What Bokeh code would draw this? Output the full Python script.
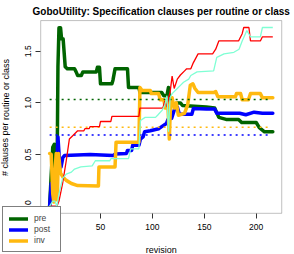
from bokeh.plotting import figure
from bokeh.models import (Range1d, FixedTicker, PrintfTickFormatter, Legend, LegendItem,
                          LinearAxis, BoxAnnotation, Label)
from bokeh.embed import file_html
from bokeh.resources import INLINE

# ---- data (revision, value) ----
pre_rev = [1, 2.5, 4, 5.5, 6.5, 7.5, 8, 9, 10, 11.5, 12.5, 14, 16, 18, 25, 26.5, 28, 31.5, 33, 46, 47, 49, 50, 61, 62, 64, 76, 77, 87, 88, 109, 111, 114, 115.5, 117, 125, 127, 129, 152, 160, 164, 171, 183, 186, 200, 203, 208, 216]
pre_val = [0, 0.3, 0.57, 0.6, 0.3, 0.6, 0.1, 1.35, 1.728, 1.728, 1.62, 1.62, 1.35, 1.33, 1.33, 1.30, 1.265, 1.265, 1.30, 1.30, 1.345, 1.345, 1.185, 1.185, 1.22, 1.33, 1.33, 1.15, 1.15, 1.10, 1.10, 1.07, 1.07, 1.15, 0.98, 1.0, 1.0, 0.975, 0.96, 0.95, 0.86, 0.84, 0.84, 0.81, 0.81, 0.76, 0.72, 0.72]

post_rev = [1, 2.5, 3.5, 5, 6.5, 8, 9, 10.5, 12, 13.7, 15.3, 40, 62, 64, 75, 76, 80, 81, 87, 88.5, 91, 92.5, 98, 106, 109, 113.5, 115, 118.5, 121, 124, 126, 138, 139.5, 152, 160, 162, 184, 190, 198, 206, 216]
post_val = [0, 0.22, 0.2, 0.05, 0.35, 0.45, 0.67, 0.44, 0.38, 0.47, 0.49, 0.5, 0.49, 0.505, 0.51, 0.54, 0.54, 0.59, 0.59, 0.65, 0.67, 0.72, 0.73, 0.75, 0.77, 0.80, 0.84, 0.85, 0.93, 0.96, 0.89, 0.89, 0.945, 0.94, 0.94, 0.90, 0.90, 0.885, 0.91, 0.90, 0.90]

inv_rev = [1, 2.5, 4, 5, 6, 7.3, 8.3, 9.5, 11.5, 14, 17, 22, 28, 48, 48.5, 64, 65, 87, 88, 90, 98, 99, 106, 107.5, 111, 112.5, 114, 115, 116.3, 117.5, 119, 121, 123, 125, 131, 134, 136.5, 139, 141, 144, 159, 161, 163, 180, 181, 185, 186.5, 192.5, 194.5, 204, 206, 216]
inv_val = [0.51, 0.5, 0.12, 0.04, 0.3, 0.51, 0.06, 0.51, 0.32, 0.28, 0.25, 0.22, 0.20, 0.195, 0.38, 0.38, 0.62, 0.62, 1.15, 1.12, 1.12, 1.09, 1.09, 1.03, 1.03, 0.95, 1.02, 0.97, 0.65, 1.0, 1.05, 0.95, 1.0, 0.88, 0.9, 0.98, 1.17, 1.185, 1.14, 1.10, 1.10, 1.11, 1.06, 1.06, 1.09, 1.09, 1.03, 1.03, 1.09, 1.09, 1.05, 1.05]

red_rev = [1, 8, 10, 13.5, 17, 20, 23, 28, 34, 35, 39, 40, 49, 50, 60, 61, 87, 88, 110, 112, 114, 115.5, 117, 119, 121, 124, 127, 131, 133, 137, 139, 144, 158, 161, 164, 183, 186.5, 188, 193, 194.5, 204, 206, 216]
red_val = [0, 0, 0.05, 0.22, 0.44, 0.65, 0.68, 0.73, 0.73, 0.75, 0.75, 0.77, 0.77, 0.82, 0.82, 0.87, 0.87, 0.95, 0.95, 1.02, 0.96, 1.05, 1.10, 1.26, 1.14, 1.23, 1.27, 1.31, 1.33, 1.33, 1.38, 1.475, 1.475, 1.52, 1.60, 1.60, 1.67, 1.73, 1.73, 1.60, 1.60, 1.64, 1.64]

aqua_rev = [1, 4, 6, 8, 10, 13.5, 17, 22, 25, 31, 42, 45, 59, 60, 77, 79, 87, 88.5, 93, 103, 105, 109.5, 112, 114, 115.5, 117, 119, 124, 127, 130, 135, 137, 143, 159, 162, 169, 178.5, 183.5, 186.5, 191, 194.5, 204, 206, 216]
aqua_val = [0, 0.05, 0.05, 0, 0.12, 0.27, 0.31, 0.33, 0.36, 0.38, 0.39, 0.44, 0.44, 0.46, 0.46, 0.555, 0.555, 0.83, 0.86, 0.86, 0.88, 0.93, 0.98, 1.07, 0.72, 1.05, 1.09, 1.14, 1.17, 1.20, 1.23, 1.265, 1.30, 1.31, 1.44, 1.475, 1.49, 1.52, 1.60, 1.70, 1.64, 1.64, 1.73, 1.73]

mean_rev = [1, 214]
pre_mean = 1.033
post_mean = 0.69
inv_mean = 0.765

x_ticks = [0, 50, 100, 150, 200]
y_ticks = [0.0, 0.5, 1.0, 1.5]

# plot-box (axis) limits and visible canvas extent, in data units
box_x = (-7.6, 224.6)
box_y = (-0.069, 1.797)
view_x = (-46.34, 236.9)
view_y = (-0.4676, 1.9913)

FONT = "Liberation Sans"
C_PRE, C_POST, C_INV = "#006400", "#0000FF", "#FFB90F"
C_RED, C_AQUA = "#FF0000", "#7FFFD4"
W, H = 294, 254

p = figure(width=W, height=H, output_backend="svg", toolbar_location=None,
           x_axis_location=None, y_axis_location=None,
           x_range=Range1d(*view_x), y_range=Range1d(*view_y),
           min_border=0, min_border_left=0, min_border_right=0,
           min_border_top=0, min_border_bottom=0)
p.background_fill_color = "white"
p.border_fill_color = "white"
p.outline_line_color = None
p.grid.visible = False

# plot box
p.add_layout(BoxAnnotation(left=box_x[0], right=box_x[1], bottom=box_y[0], top=box_y[1],
                           fill_alpha=0, line_color="#333333", line_width=1, level="underlay"))

def style_axis(ax):
    ax.axis_line_color = None
    ax.major_tick_in = 0
    ax.major_tick_out = 5
    ax.major_tick_line_color = "#333333"
    ax.minor_tick_line_color = None
    ax.major_label_text_font = FONT
    ax.major_label_text_font_size = "8.5px"
    ax.major_label_text_color = "black"

xax = LinearAxis(ticker=FixedTicker(ticks=x_ticks), fixed_location=box_y[0])
style_axis(xax)
xax.major_label_standoff = 6
p.add_layout(xax, "below")

yax = LinearAxis(ticker=FixedTicker(ticks=y_ticks), fixed_location=box_x[0],
                 formatter=PrintfTickFormatter(format="%.1f"))
style_axis(yax)
yax.major_label_orientation = "vertical"
yax.major_label_standoff = 5
p.add_layout(yax, "left")

# texts (screen units, y measured from the bottom of the canvas)
p.add_layout(Label(x=160.7, y=H - 11, x_units="screen", y_units="screen",
                   text="GoboUtility: Specification clauses per routine or class",
                   text_font=FONT, text_font_size="10px", text_font_style="bold",
                   text_align="center", text_baseline="middle", text_color="black"))
p.add_layout(Label(x=160.7, y=H - 249, x_units="screen", y_units="screen",
                   text="revision", text_font=FONT, text_font_size="9px",
                   text_align="center", text_baseline="middle", text_color="black"))
p.add_layout(Label(x=5, y=H - 117, x_units="screen", y_units="screen", angle=1.5707963,
                   text="# clauses per routine or class", text_font=FONT, text_font_size="9px",
                   text_align="center", text_baseline="middle", text_color="black"))

kw = dict(line_width=3.5, line_join="round", line_cap="round")
r_pre = p.line(pre_rev, pre_val, line_color=C_PRE, **kw)
r_post = p.line(post_rev, post_val, line_color=C_POST, **kw)
r_inv = p.line(inv_rev, inv_val, line_color=C_INV, **kw)

dkw = dict(line_width=1.5, line_dash="2 4")
p.line(mean_rev, [pre_mean] * 2, line_color=C_PRE, **dkw)
p.line(mean_rev, [post_mean] * 2, line_color=C_POST, **dkw)
p.line(mean_rev, [inv_mean] * 2, line_color=C_INV, **dkw)

p.line(red_rev, red_val, line_color=C_RED, line_width=1.3)
p.line(aqua_rev, aqua_val, line_color=C_AQUA, line_width=1.3)

legend = Legend(items=[LegendItem(label="pre", renderers=[r_pre]),
                       LegendItem(label="post", renderers=[r_post]),
                       LegendItem(label="inv", renderers=[r_inv])],
                location=(2, 2))
legend.border_line_color = "black"
legend.border_line_width = 1
legend.background_fill_color = "white"
legend.background_fill_alpha = 1
legend.label_text_font = FONT
legend.label_text_font_size = "8.5px"
legend.glyph_width = 19
legend.glyph_height = 9
legend.label_height = 9
legend.spacing = 1
legend.padding = 6
legend.margin = 0
legend.label_standoff = 6
p.add_layout(legend)

open("out.html", "w").write(file_html(p, INLINE))
